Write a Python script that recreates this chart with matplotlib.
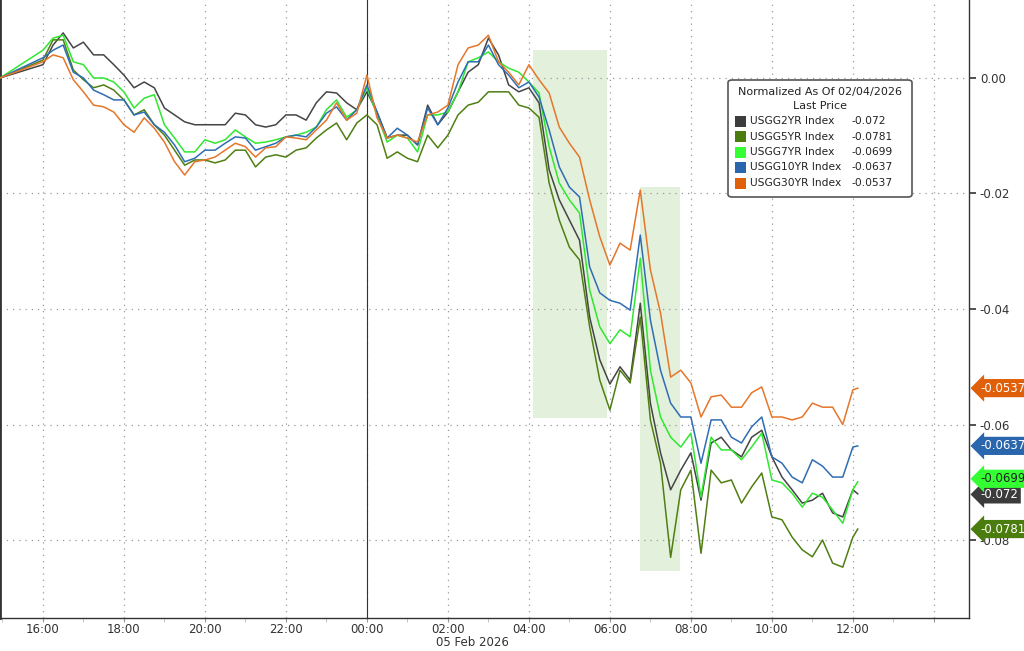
import numpy as np
import matplotlib.pyplot as plt
import matplotlib.transforms as mtransforms
from matplotlib.patches import FancyBboxPatch, Rectangle

# hours relative to 00:00 on 05 Feb 2026; 15-min samples from 16:00 to 12:00
times = np.concatenate([[-9.06], np.arange(-8, 12.01, 0.25), [12.12]])

# changes in bp (normalized to 02/04/2026 close)
usgg2 = [0, 0.23, 0.57, 0.78, 0.52, 0.62, 0.40, 0.40, 0.23, 0.05, -0.17, -0.07, -0.17,
         -0.52, -0.64, -0.76, -0.81, -0.81, -0.81, -0.81, -0.61, -0.64, -0.81, -0.85, -0.81,
         -0.64, -0.64, -0.73, -0.43, -0.24, -0.26, -0.43, -0.55, -0.24, -0.59, -1.04, -0.99,
         -0.99, -1.16, -0.47, -0.81, -0.59, -0.24, 0.10, 0.23, 0.69, 0.40, -0.12, -0.24,
         -0.17, -0.43, -1.59, -2.11, -2.46, -2.81, -4.14, -4.88, -5.30, -5.00, -5.23, -3.90,
         -5.63, -6.49, -7.13, -6.79, -6.49, -7.31, -6.32, -6.22, -6.44, -6.56, -6.22, -6.10,
         -6.56, -6.91, -7.13, -7.36, -7.31, -7.19, -7.53, -7.60, -7.13, -7.20]
usgg5 = [0, 0.31, 0.66, 0.66, 0.14, -0.03, -0.17, -0.12, -0.21, -0.38, -0.64, -0.55, -0.81,
         -0.99, -1.25, -1.51, -1.42, -1.42, -1.47, -1.42, -1.25, -1.25, -1.54, -1.37, -1.33,
         -1.37, -1.25, -1.21, -1.04, -0.90, -0.78, -1.07, -0.78, -0.64, -0.81, -1.39, -1.28,
         -1.39, -1.45, -0.99, -1.21, -0.99, -0.64, -0.47, -0.42, -0.24, -0.24, -0.24, -0.47,
         -0.52, -0.68, -1.82, -2.46, -2.93, -3.15, -4.31, -5.23, -5.75, -5.06, -5.28, -4.14,
         -5.92, -6.67, -8.30, -7.13, -6.79, -8.23, -6.79, -7.01, -6.96, -7.36, -7.08, -6.84,
         -7.60, -7.65, -7.95, -8.17, -8.29, -8.00, -8.40, -8.47, -7.95, -7.81]
usgg7 = [0, 0.48, 0.69, 0.74, 0.28, 0.23, 0.00, 0.00, -0.07, -0.24, -0.52, -0.35, -0.29,
         -0.81, -1.04, -1.28, -1.28, -1.07, -1.13, -1.07, -0.90, -1.02, -1.13, -1.11, -1.07,
         -1.02, -0.99, -0.94, -0.85, -0.55, -0.38, -0.68, -0.55, -0.17, -0.64, -1.11, -0.99,
         -1.04, -1.28, -0.64, -0.64, -0.59, -0.24, 0.28, 0.35, 0.45, 0.28, 0.17, 0.10,
         -0.07, -0.26, -1.19, -1.82, -2.11, -2.34, -3.67, -4.31, -4.60, -4.36, -4.48, -3.12,
         -5.06, -5.87, -6.22, -6.39, -6.15, -7.26, -6.22, -6.44, -6.44, -6.61, -6.39, -6.15,
         -6.96, -7.01, -7.19, -7.43, -7.19, -7.26, -7.48, -7.71, -7.13, -6.99]
usgg10 = [0, 0.35, 0.48, 0.57, 0.10, 0.00, -0.21, -0.29, -0.38, -0.38, -0.64, -0.59, -0.81,
          -0.94, -1.16, -1.45, -1.39, -1.25, -1.25, -1.13, -1.02, -1.04, -1.25, -1.19, -1.13,
          -1.02, -0.99, -1.02, -0.85, -0.61, -0.50, -0.73, -0.55, -0.12, -0.59, -1.04, -0.87,
          -0.99, -1.16, -0.52, -0.81, -0.52, -0.07, 0.28, 0.28, 0.57, 0.23, 0.05, -0.17,
          -0.07, -0.33, -0.90, -1.54, -1.89, -2.06, -3.27, -3.72, -3.85, -3.90, -4.02, -2.72,
          -4.19, -5.06, -5.63, -5.87, -5.87, -6.67, -5.92, -5.92, -6.22, -6.32, -6.04, -5.87,
          -6.56, -6.67, -6.91, -7.01, -6.61, -6.72, -6.91, -6.91, -6.39, -6.37]
usgg30 = [0, 0.28, 0.40, 0.35, -0.03, -0.24, -0.47, -0.50, -0.59, -0.81, -0.94, -0.69, -0.87,
          -1.11, -1.45, -1.68, -1.45, -1.42, -1.37, -1.25, -1.13, -1.19, -1.37, -1.21, -1.19,
          -1.02, -1.04, -1.07, -0.90, -0.73, -0.43, -0.73, -0.61, 0.05, -0.69, -1.04, -0.99,
          -1.04, -1.11, -0.64, -0.59, -0.47, 0.23, 0.52, 0.57, 0.74, 0.28, 0.10, -0.12,
          0.23, -0.03, -0.26, -0.85, -1.13, -1.37, -2.11, -2.75, -3.24, -2.86, -2.98, -1.94,
          -3.32, -4.07, -5.18, -5.06, -5.28, -5.87, -5.52, -5.49, -5.70, -5.70, -5.45, -5.35,
          -5.87, -5.87, -5.92, -5.87, -5.63, -5.70, -5.70, -6.00, -5.40, -5.37]

names = ["USGG2YR Index", "USGG5YR Index", "USGG7YR Index", "USGG10YR Index", "USGG30YR Index"]
series = [usgg2, usgg5, usgg7, usgg10, usgg30]
colors = ["#454545", "#4f7f12", "#2fe82f", "#2f6db3", "#e5762a"]
tag_colors = ["#3c3c3c", "#4a7d0e", "#33ff33", "#2a66ad", "#e0600a"]
tag_text = ["white", "white", "#222222", "white", "white"]
tag_y = [-0.0721, -0.0781, -0.0694, -0.0637, -0.0537]

# shaded selloff windows: (t0, t1, y0, y1) in hours / bp
spans = [(4.10, 5.93, -5.89, 0.48), (6.74, 7.73, -8.54, -1.89)]

fig = plt.figure(figsize=(10.24, 6.51), dpi=100)
ax = fig.add_axes([0.0, 0.0507, 0.946, 0.9493])

for t0, t1, y0, y1 in spans:
    ax.add_patch(Rectangle((t0, y0 / 100), t1 - t0, (y1 - y0) / 100,
                           facecolor="#e3f1dc", edgecolor="none", zorder=0))

for s, c in zip(series, colors):
    ax.plot(times, np.array(s) / 100, color=c, lw=1.1, zorder=3)

ax.axvline(0, color="#333333", lw=0.8, zorder=2)

ax.set_xlim(-9.06, 14.86)
ax.set_ylim(-0.0935, 0.0135)
xt = np.arange(-8, 15, 2)
ax.set_xticks(xt)
ax.set_xticklabels([f"{int(h) % 24:02d}:00" if h <= 12 else "" for h in xt])
ax.set_xticks(np.arange(-9, 15, 2), minor=True)
yt = [-0.08, -0.06, -0.04, -0.02, 0.0]
ax.set_yticks(yt)
ax.set_yticklabels([f"{v:.2f}" for v in yt])
ax.yaxis.tick_right()
ax.tick_params(axis="y", direction="out", length=5, width=1.2, colors="#333333",
               labelsize=8.5, pad=3)
ax.tick_params(axis="x", which="major", direction="out", length=3, color="#999999",
               labelsize=8.5, labelcolor="#333333", pad=0.5)
ax.tick_params(axis="x", which="minor", direction="out", length=3, color="#bbbbbb")
ax.grid(True, color="#9a9a9a", linestyle=(0, (1, 4)), lw=0.9)
for side in ["left", "right", "bottom"]:
    ax.spines[side].set_color("#333333")
    ax.spines[side].set_linewidth(1.0)
ax.spines["top"].set_visible(False)
ax.spines["left"].set_linewidth(2)

fig.text(472 / 1024, 1 - 643 / 651, "05 Feb 2026", ha="center", va="center",
         fontsize=8.5, color="#333333")

# last value tags
trans = mtransforms.blended_transform_factory(ax.transAxes, ax.transData)
for ty, tc, tt, s in zip(tag_y, tag_colors, tag_text, series):
    ax.text(1.012, ty, f"{s[-1] / 100:.4f}".rstrip("0"), transform=trans, ha="left",
            va="center", fontsize=8.5, color=tt, zorder=5, clip_on=False,
            bbox=dict(boxstyle="larrow,pad=0.22", fc=tc, ec="none"))

# legend box
fig.patches.append(FancyBboxPatch((728 / 1024, 1 - 197 / 651), 184 / 1024, 117 / 651,
                                  boxstyle="round,pad=0,rounding_size=0.004",
                                  transform=fig.transFigure, fc="white",
                                  ec="#555555", lw=1.2, zorder=10))
fig.text(820 / 1024, 1 - 92 / 651, "Normalized As Of 02/04/2026", ha="center",
         va="center", fontsize=8.0, color="#222222", zorder=11)
fig.text(820 / 1024, 1 - 106 / 651, "Last Price", ha="center", va="center",
         fontsize=8.0, color="#222222", zorder=11)
for i, (n, s, c) in enumerate(zip(names, series, tag_colors)):
    yy = 1 - (121 + i * 15.5) / 651
    fig.patches.append(Rectangle((735 / 1024, yy - 5.5 / 651), 11 / 1024, 11 / 651,
                                 transform=fig.transFigure, fc=c, ec="none", zorder=11))
    fig.text(750 / 1024, yy, n, ha="left", va="center", fontsize=7.7,
             color="#222222", zorder=11)
    fig.text(851 / 1024, yy, f"{s[-1] / 100:.4f}".rstrip("0"), ha="left",
             va="center", fontsize=7.7, color="#222222", zorder=11)

fig.savefig("out.png", dpi=100)
